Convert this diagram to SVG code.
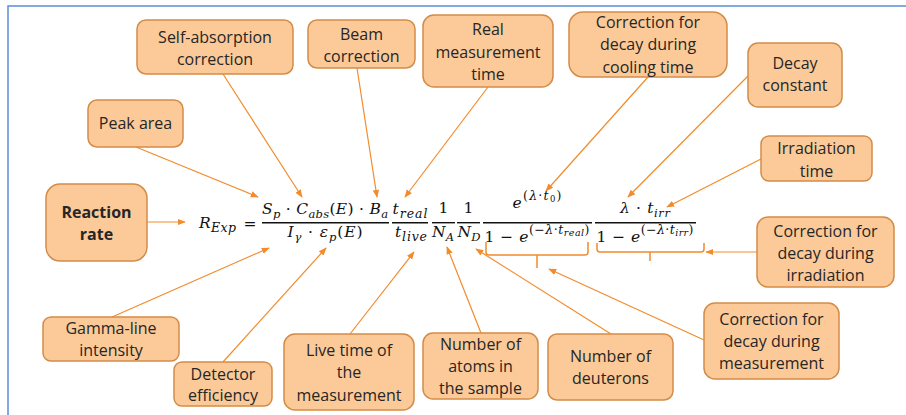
<svg xmlns="http://www.w3.org/2000/svg" width="906" height="415" viewBox="0 0 906 415">
<defs>
<style>
.box{fill:#fcca98;stroke:#d38c48;stroke-width:1.5}
.t{font-family:"Open Sans","Liberation Sans",sans-serif;font-size:16px;fill:#262626;text-anchor:middle}
.b{font-weight:bold}
.m{font-family:"DejaVu Serif","Liberation Serif",serif;font-style:italic;fill:#111;font-size:15.5px}
.u{font-style:normal}
.s{font-size:11.5px}
.ss{font-size:8.5px}
.bar{stroke:#111;stroke-width:1.4}
.c{stroke:#f28b2c;stroke-width:1.2;fill:none}
.br{stroke:#f28b2c;stroke-width:1.5;fill:none}
</style>
<marker id="ah" viewBox="0 0 10 10" refX="9" refY="5" markerWidth="8" markerHeight="8" orient="auto" markerUnits="userSpaceOnUse">
<path d="M0,1 L10,5 L0,9 z" fill="#f28b2c"/>
</marker>
</defs>
<rect width="906" height="415" fill="#fff"/>
<path d="M8,415 V6 H906" fill="none" stroke="#5b8fd6" stroke-width="1.5"/>

<g id="formula">
<text class="m" x="199" y="228" font-size="18" textLength="37" lengthAdjust="spacing">R<tspan font-size="12.5" dy="4">Exp</tspan></text>
<text class="m u" x="250" y="229" font-size="19" text-anchor="middle">=</text>
<line class="bar" x1="262" y1="222.7" x2="389" y2="222.7"/>
<text class="m" x="325" y="214" text-anchor="middle" textLength="126" lengthAdjust="spacing">S<tspan class="s" dy="3.5">p</tspan><tspan class="u" dy="-3.5"> · </tspan>C<tspan class="s" dy="3.5">abs</tspan><tspan class="u" dy="-3.5">(</tspan>E<tspan class="u">) · </tspan>B<tspan class="s" dy="3.5">a</tspan></text>
<text class="m" x="325" y="237" text-anchor="middle" textLength="75" lengthAdjust="spacing">I<tspan class="s" dy="3.5">γ</tspan><tspan class="u" dy="-3.5"> · </tspan>ε<tspan class="s" dy="3.5">p</tspan><tspan class="u" dy="-3.5">(</tspan>E<tspan class="u">)</tspan></text>
<line class="bar" x1="392" y1="222.7" x2="428" y2="222.7"/>
<text class="m" x="410" y="214" text-anchor="middle" textLength="35" lengthAdjust="spacing">t<tspan font-size="12.5" dy="3.5">real</tspan></text>
<text class="m" x="411" y="237" text-anchor="middle" textLength="32" lengthAdjust="spacing">t<tspan font-size="12.5" dy="3.5">live</tspan></text>
<line class="bar" x1="432" y1="222.7" x2="455" y2="222.7"/>
<text class="m u" x="443.5" y="213" text-anchor="middle">1</text>
<text class="m" x="443" y="237" text-anchor="middle">N<tspan class="s" dy="3.5">A</tspan></text>
<line class="bar" x1="457" y1="222.7" x2="480" y2="222.7"/>
<text class="m u" x="468.5" y="213" text-anchor="middle">1</text>
<text class="m" x="469" y="237" text-anchor="middle">N<tspan class="s" dy="3.5">D</tspan></text>
<line class="bar" x1="483" y1="222.7" x2="592" y2="222.7"/>
<text class="m" x="537" y="208" text-anchor="middle" textLength="49" lengthAdjust="spacing">e<tspan font-size="12.5" class="u" dy="-8">(</tspan><tspan font-size="12.5">λ</tspan><tspan font-size="12.5" class="u">·</tspan><tspan font-size="12.5">t</tspan><tspan class="ss u" dy="2">0</tspan><tspan font-size="12.5" class="u" dy="-2">)</tspan></text>
<text class="m" x="537" y="242" font-size="18" text-anchor="middle" textLength="105" lengthAdjust="spacing"><tspan class="u">1 − </tspan>e<tspan font-size="12.5" class="u" dy="-8.5">(−</tspan><tspan font-size="12.5">λ</tspan><tspan font-size="12.5" class="u">·</tspan><tspan font-size="12.5">t</tspan><tspan font-size="9.5" dy="2.5">real</tspan><tspan font-size="12.5" class="u" dy="-2.5">)</tspan></text>
<line class="bar" x1="595" y1="222.7" x2="696" y2="222.7"/>
<text class="m" x="645" y="213" text-anchor="middle" textLength="50" lengthAdjust="spacing">λ<tspan class="u"> · </tspan>t<tspan class="s" dy="3.5">irr</tspan></text>
<text class="m" x="645" y="242" font-size="18" text-anchor="middle" textLength="97" lengthAdjust="spacing"><tspan class="u">1 − </tspan>e<tspan font-size="12.5" class="u" dy="-8.5">(−</tspan><tspan font-size="12.5">λ</tspan><tspan font-size="12.5" class="u">·</tspan><tspan font-size="12.5">t</tspan><tspan font-size="9.5" dy="2.5">irr</tspan><tspan font-size="12.5" class="u" dy="-2.5">)</tspan></text>
</g>

<g id="connectors">
<path class="br" d="M486,242 V252 Q486,255 489,255 H585 Q588,255 588,252 V242 M537,255 V268"/>
<path class="br" d="M597,243 V249 Q597,252 600,252 H701 Q704,252 704,249 V243 M650,252 V261"/>
<line class="c" x1="147" y1="222" x2="185" y2="222" marker-end="url(#ah)"/>
<line class="c" x1="136" y1="147" x2="258" y2="197" marker-end="url(#ah)"/>
<line class="c" x1="223" y1="74" x2="302" y2="197" marker-end="url(#ah)"/>
<line class="c" x1="357" y1="68" x2="377" y2="197" marker-end="url(#ah)"/>
<line class="c" x1="488" y1="87" x2="405" y2="197" marker-end="url(#ah)"/>
<line class="c" x1="648" y1="77" x2="546" y2="191" marker-end="url(#ah)"/>
<line class="c" x1="748" y1="76" x2="628" y2="197" marker-end="url(#ah)"/>
<line class="c" x1="761" y1="159" x2="667" y2="207" marker-end="url(#ah)"/>
<line class="c" x1="757" y1="252" x2="706" y2="252" marker-end="url(#ah)"/>
<line class="c" x1="704" y1="340" x2="549" y2="269" marker-end="url(#ah)"/>
<line class="c" x1="611" y1="334" x2="476" y2="249" marker-end="url(#ah)"/>
<line class="c" x1="481" y1="333" x2="447" y2="247" marker-end="url(#ah)"/>
<line class="c" x1="350" y1="334" x2="414" y2="252" marker-end="url(#ah)"/>
<line class="c" x1="223" y1="362" x2="326" y2="248" marker-end="url(#ah)"/>
<line class="c" x1="112" y1="317" x2="269" y2="248" marker-end="url(#ah)"/>
</g>

<g id="n-self"><rect class="box" x="137" y="20" width="156" height="54" rx="9"/><text class="t" x="215" y="43">Self-absorption</text><text class="t" x="215" y="65">correction</text></g>
<g id="n-beam"><rect class="box" x="308" y="20" width="107" height="48" rx="9"/><text class="t" x="361.5" y="40">Beam</text><text class="t" x="361.5" y="62">correction</text></g>
<g id="n-real"><rect class="box" x="423" y="15" width="130" height="72" rx="11"/><text class="t" x="488" y="35">Real</text><text class="t" x="488" y="58">measurement</text><text class="t" x="488" y="80">time</text></g>
<g id="n-cool"><rect class="box" x="569" y="12" width="158" height="65" rx="14"/><text class="t" x="648" y="28">Correction for</text><text class="t" x="648" y="50">decay during</text><text class="t" x="648" y="73">cooling time</text></g>
<g id="n-decay"><rect class="box" x="748" y="43" width="94" height="64" rx="10"/><text class="t" x="795" y="69">Decay</text><text class="t" x="795" y="91">constant</text></g>
<g id="n-irrtime"><rect class="box" x="761" y="136" width="111" height="45" rx="8"/><text class="t" x="816.5" y="154">Irradiation</text><text class="t" x="816.5" y="177">time</text></g>
<g id="n-peak"><rect class="box" x="88" y="100" width="95" height="47" rx="9"/><text class="t" x="135.5" y="129">Peak area</text></g>
<g id="n-rate"><rect class="box" x="46" y="184" width="101" height="77" rx="14"/><text class="t b" x="96.5" y="218">Reaction</text><text class="t b" x="96.5" y="240">rate</text></g>
<g id="n-gamma"><rect class="box" x="43" y="317" width="136" height="44" rx="8"/><text class="t" x="111" y="334">Gamma-line</text><text class="t" x="111" y="356">intensity</text></g>
<g id="n-det"><rect class="box" x="174" y="362" width="98" height="44" rx="8"/><text class="t" x="223" y="380">Detector</text><text class="t" x="223" y="401">efficiency</text></g>
<g id="n-live"><rect class="box" x="284" y="334" width="130" height="76" rx="11"/><text class="t" x="349" y="356">Live time of</text><text class="t" x="349" y="378">the</text><text class="t" x="349" y="401">measurement</text></g>
<g id="n-atoms"><rect class="box" x="423" y="333" width="115" height="66" rx="10"/><text class="t" x="480.5" y="350">Number of</text><text class="t" x="480.5" y="372">atoms in</text><text class="t" x="480.5" y="394">the sample</text></g>
<g id="n-deut"><rect class="box" x="548" y="334" width="125" height="66" rx="9"/><text class="t" x="610.5" y="362">Number of</text><text class="t" x="610.5" y="384">deuterons</text></g>
<g id="n-meas"><rect class="box" x="704" y="303" width="135" height="76" rx="11"/><text class="t" x="771.5" y="325">Correction for</text><text class="t" x="771.5" y="347">decay during</text><text class="t" x="771.5" y="369">measurement</text></g>
<g id="n-irr"><rect class="box" x="757" y="217" width="137" height="70" rx="11"/><text class="t" x="825.5" y="237">Correction for</text><text class="t" x="825.5" y="259">decay during</text><text class="t" x="825.5" y="281">irradiation</text></g>
</svg>
